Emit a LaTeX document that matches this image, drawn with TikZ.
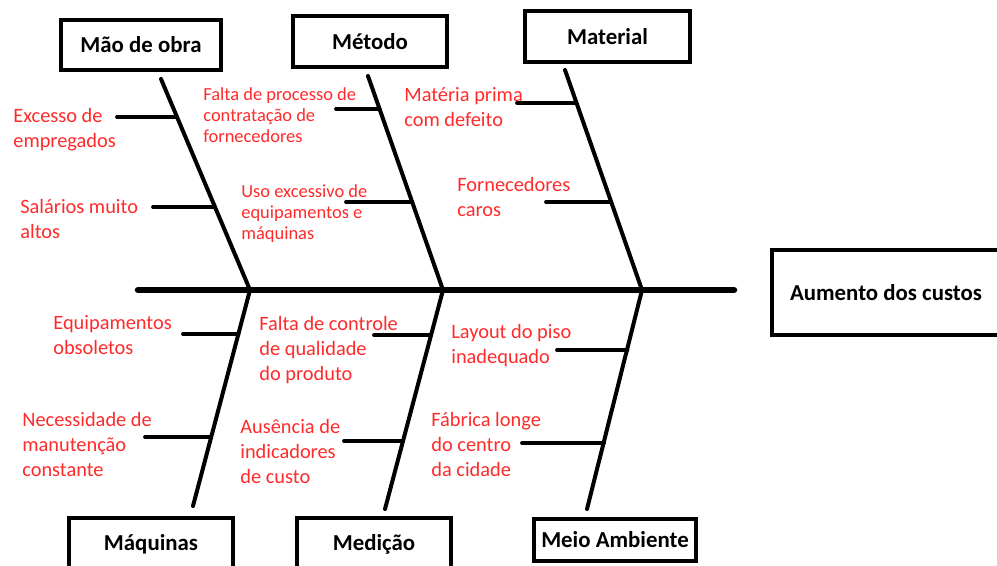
\documentclass[tikz,border=0pt]{standalone}
\usepackage{fontspec}
\setmainfont{Carlito}
\definecolor{causered}{HTML}{FF2A2A}
\tikzset{
  catbox/.style={
    draw=black,
    line width=0.08cm,
    fill=white,
    inner sep=0pt,
    align=center,
    font=\fontsize{13}{15.6}\selectfont\bfseries,
  },
  cause/.style={text=causered, align=left, anchor=base west, inner sep=0pt,
    font=\fontsize{11.6}{14.2}\selectfont},
  smallcause/.style={cause, font=\fontsize{10.5}{11.9}\selectfont},
  spine/.style={line width=0.13cm},
  bone/.style={line width=0.08cm},
  rib/.style={line width=0.075cm},
}
\begin{document}
\begin{tikzpicture}[x=0.02cm, y=-0.02cm, line cap=round]
  \useasboundingbox (0,0) rectangle (997,565);

  % category boxes
  \node[catbox, minimum width=3.2cm, minimum height=1.0cm] (mao) at (141,45) {Mão de obra};
  \node[catbox, minimum width=3.08cm, minimum height=1.02cm] (metodo) at (370,41.5) {Método};
  \node[catbox, minimum width=3.3cm, minimum height=1.02cm] (material) at (607.5,36.5) {Material};
  \node[catbox, minimum width=3.28cm, minimum height=1.06cm] (maquinas) at (151,544.5) {Máquinas};
  \node[catbox, minimum width=3.08cm, minimum height=1.06cm] (medicao) at (374,544.5) {Medição};
  \node[catbox, minimum width=3.24cm, minimum height=0.84cm] (meio) at (615,540) {Meio Ambiente};
  \node[catbox, minimum width=4.56cm, minimum height=1.7cm] (efeito) at (886,292.5) {Aumento dos custos};

  % spine
  \coordinate (tail) at (138,290);
  \coordinate (head) at (734,290);
  \coordinate (j1) at (250,290);
  \coordinate (j2) at (443,290);
  \coordinate (j3) at (642,290);
  \draw[spine] (tail) -- (head);

  % bones
  \coordinate (mao-top) at (161,79);
  \coordinate (metodo-top) at (368,76);
  \coordinate (material-top) at (565,70);
  \coordinate (maquinas-bot) at (193,506);
  \coordinate (medicao-bot) at (385,509);
  \coordinate (meio-bot) at (587,509);
  \draw[bone] (mao-top) -- (j1);
  \draw[bone] (metodo-top) -- (j2);
  \draw[bone] (material-top) -- (j3);
  \draw[bone] (j1) -- (maquinas-bot);
  \draw[bone] (j2) -- (medicao-bot);
  \draw[bone] (j3) -- (meio-bot);

  % ribs
  \coordinate (rib1) at (117,117);   \coordinate (bone1) at (177,117);
  \coordinate (rib2) at (153,207);   \coordinate (bone2) at (215,207);
  \coordinate (rib3) at (336,109);   \coordinate (bone3) at (379.5,109);
  \coordinate (rib4) at (346,202);   \coordinate (bone4) at (412,202);
  \coordinate (rib5) at (517,103);   \coordinate (bone5) at (576.5,103);
  \coordinate (rib6) at (546,202);   \coordinate (bone6) at (611,202);
  \coordinate (rib7) at (183,334);   \coordinate (bone7) at (238.5,334);
  \coordinate (rib8) at (145,437);   \coordinate (bone8) at (211,437);
  \coordinate (rib9) at (374,335);   \coordinate (bone9) at (431,335);
  \coordinate (rib10) at (344,441);  \coordinate (bone10) at (403,441);
  \coordinate (rib11) at (557,350);  \coordinate (bone11) at (627.5,350);
  \coordinate (rib12) at (522,443);  \coordinate (bone12) at (604,443);
  \foreach \i in {1,...,12}
    \draw[rib] (rib\i) -- (bone\i);

  % causes (placed at the baseline of their last line)
  \node[cause] (excesso) at (13,147) {Excesso de\\empregados};
  \node[cause] (salarios) at (20,238) {Salários muito\\altos};
  \node[smallcause] (contratacao) at (203,142) {Falta de processo de\\contratação de\\fornecedores};
  \node[smallcause] (uso) at (241,239) {Uso excessivo de\\equipamentos e\\máquinas};
  \node[cause] (prima) at (404,126) {Matéria prima\\com defeito};
  \node[cause] (fornecedores) at (457,216) {Fornecedores\\caros};
  \node[cause] (obsoletos) at (53,354) {Equipamentos\\obsoletos};
  \node[cause] (manutencao) at (22,476) {Necessidade de\\manutenção\\constante};
  \node[cause] (qualidade) at (259,380) {Falta de controle\\de qualidade\\do produto};
  \node[cause] (indicadores) at (240,483) {Ausência de\\indicadores\\de custo};
  \node[cause] (layout) at (451,363) {Layout do piso\\inadequado};
  \node[cause] (fabrica) at (431,476) {Fábrica longe\\do centro\\da cidade};
\end{tikzpicture}
\end{document}
